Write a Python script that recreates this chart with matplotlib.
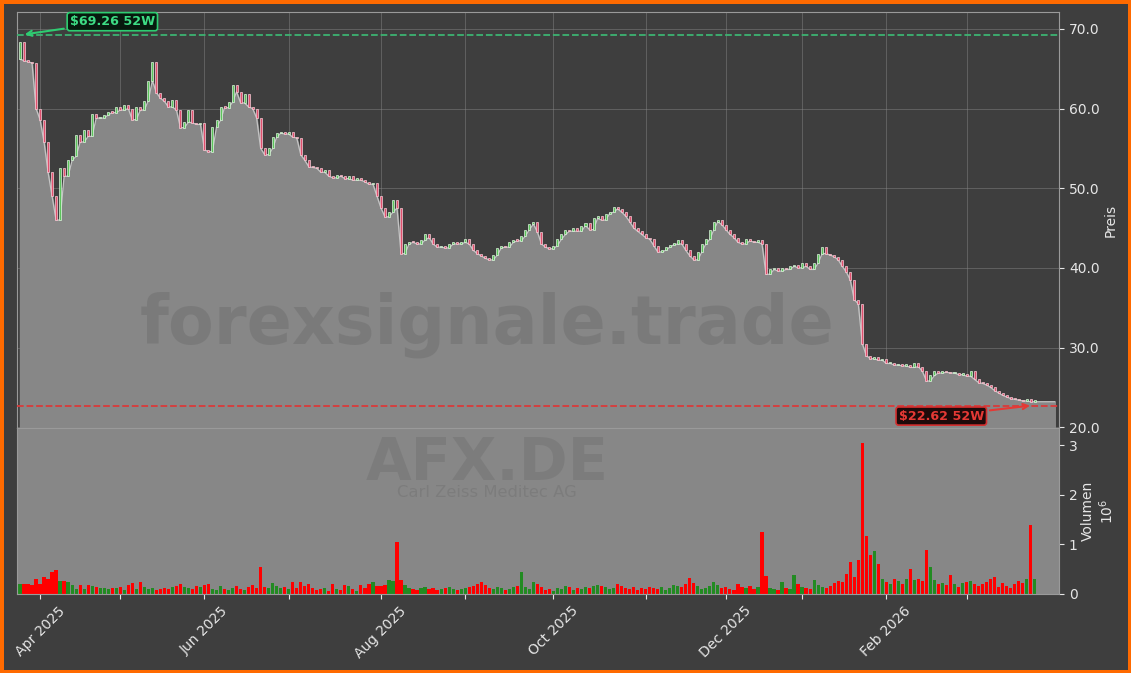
import numpy as np
import pandas as pd
import matplotlib
matplotlib.use("Agg")
import matplotlib.pyplot as plt

ticker = "AFX.DE"
company = "Carl Zeiss Meditec AG"
watermark = "forexsignale.trade"
high_52w = 69.26
low_52w = 22.62

# Xetra trading days
holidays = ["2025-04-18", "2025-04-21", "2025-05-01", "2025-12-24",
            "2025-12-25", "2025-12-26", "2025-12-31", "2026-01-01"]
dates = pd.bdate_range("2025-03-25", "2026-03-25")
dates = dates[~dates.isin(pd.to_datetime(holidays))]

first_open = 66.2
close = [
    68.4, 66.0, 65.9, 65.7, 60.0, 58.6, 55.8, 52.0, 49.0, 46.0,
    52.5, 51.5, 53.5, 54.0, 56.7, 55.8, 57.3, 56.5, 59.3, 58.8,
    58.8, 59.2, 59.6, 59.5, 60.2, 59.8, 60.4, 60.0, 58.6, 60.2,
    59.8, 61.0, 63.5, 65.9, 62.0, 61.3, 60.9, 60.2, 61.1, 59.8,
    57.6, 58.3, 59.8, 58.2, 58.0, 58.2, 54.8, 54.6, 57.7, 58.5,
    60.2, 60.1, 60.8, 63.0, 62.1, 60.7, 61.8, 60.2, 60.0, 58.8,
    55.0, 54.2, 55.0, 56.4, 56.9, 57.0, 56.8, 57.0, 56.4, 56.3,
    54.2, 53.5, 52.7, 52.6, 52.5, 52.0, 52.3, 51.5, 51.3, 51.6,
    51.5, 51.2, 51.5, 51.0, 51.3, 51.0, 50.8, 50.5, 50.6, 49.0,
    47.5, 46.4, 47.0, 48.5, 47.5, 41.8, 43.0, 43.3, 43.2, 43.0,
    43.5, 44.3, 43.8, 43.0, 42.6, 42.8, 42.5, 43.0, 43.3, 43.0,
    43.2, 43.6, 43.0, 42.2, 41.8, 41.5, 41.2, 41.0, 41.6, 42.5,
    42.8, 42.6, 43.2, 43.5, 43.4, 44.0, 44.8, 45.5, 45.8, 44.5,
    43.0, 42.6, 42.4, 42.8, 43.6, 44.2, 44.8, 44.6, 45.0, 44.6,
    45.3, 45.6, 44.8, 46.2, 46.5, 46.0, 46.8, 47.0, 47.6, 47.4,
    47.0, 46.5, 45.8, 45.0, 44.6, 44.2, 43.8, 43.6, 42.8, 42.0,
    42.2, 42.6, 42.9, 43.0, 43.5, 43.0, 42.2, 41.5, 41.0, 42.0,
    43.0, 43.6, 44.8, 45.8, 46.0, 45.4, 44.8, 44.2, 43.8, 43.2,
    43.0, 43.6, 43.4, 43.2, 43.5, 43.0, 39.2, 39.8, 40.0, 39.6,
    40.0, 39.8, 40.2, 40.4, 40.0, 40.6, 40.2, 39.8, 40.6, 41.8,
    42.6, 41.8, 41.6, 41.4, 41.0, 40.2, 39.5, 38.5, 36.0, 35.5,
    30.5, 29.0, 28.6, 28.8, 28.4, 28.6, 28.0, 28.0, 27.8, 27.9,
    27.7, 27.8, 27.5, 28.0, 27.6, 27.0, 25.8, 26.5, 27.0, 26.8,
    27.0, 26.9, 26.8, 26.8, 26.6, 26.7, 26.4, 27.0, 26.0, 25.6,
    25.5, 25.3, 25.0, 24.6, 24.3, 24.0, 23.8, 23.6, 23.5, 23.4,
    23.3, 23.5, 23.2, 23.4,
]
# volume in millions
volume_m = [
    0.20, 0.20, 0.20, 0.18, 0.30, 0.20, 0.34, 0.30, 0.44, 0.48,
    0.26, 0.26, 0.24, 0.18, 0.10, 0.18, 0.10, 0.18, 0.16, 0.14,
    0.12, 0.12, 0.10, 0.12, 0.12, 0.14, 0.08, 0.18, 0.22, 0.10,
    0.24, 0.14, 0.10, 0.12, 0.08, 0.10, 0.12, 0.10, 0.14, 0.16,
    0.20, 0.14, 0.12, 0.10, 0.16, 0.14, 0.18, 0.20, 0.10, 0.08,
    0.16, 0.10, 0.08, 0.12, 0.16, 0.10, 0.08, 0.14, 0.18, 0.12,
    0.55, 0.14, 0.12, 0.22, 0.16, 0.12, 0.14, 0.10, 0.24, 0.12,
    0.24, 0.16, 0.20, 0.12, 0.08, 0.10, 0.12, 0.06, 0.20, 0.10,
    0.08, 0.18, 0.16, 0.10, 0.06, 0.18, 0.12, 0.20, 0.24, 0.16,
    0.16, 0.18, 0.28, 0.26, 1.05, 0.28, 0.18, 0.12, 0.10, 0.08,
    0.12, 0.14, 0.10, 0.12, 0.08, 0.10, 0.12, 0.14, 0.10, 0.08,
    0.10, 0.12, 0.14, 0.16, 0.20, 0.24, 0.18, 0.12, 0.10, 0.14,
    0.12, 0.08, 0.10, 0.14, 0.16, 0.45, 0.14, 0.10, 0.24, 0.20,
    0.14, 0.08, 0.10, 0.06, 0.12, 0.10, 0.16, 0.14, 0.08, 0.12,
    0.10, 0.14, 0.12, 0.16, 0.18, 0.16, 0.14, 0.10, 0.12, 0.20,
    0.16, 0.12, 0.10, 0.14, 0.08, 0.12, 0.10, 0.14, 0.12, 0.10,
    0.14, 0.08, 0.12, 0.18, 0.16, 0.14, 0.20, 0.32, 0.22, 0.16,
    0.10, 0.12, 0.16, 0.24, 0.18, 0.12, 0.14, 0.10, 0.08, 0.20,
    0.14, 0.12, 0.16, 0.10, 0.14, 1.25, 0.36, 0.12, 0.10, 0.08,
    0.24, 0.12, 0.10, 0.38, 0.20, 0.14, 0.12, 0.10, 0.28, 0.18,
    0.14, 0.12, 0.16, 0.22, 0.26, 0.24, 0.40, 0.65, 0.35, 0.68,
    3.05, 1.18, 0.78, 0.86, 0.60, 0.30, 0.24, 0.20, 0.30, 0.26,
    0.20, 0.30, 0.50, 0.28, 0.30, 0.26, 0.88, 0.55, 0.28, 0.20,
    0.22, 0.18, 0.38, 0.20, 0.14, 0.22, 0.24, 0.26, 0.20, 0.16,
    0.20, 0.24, 0.30, 0.34, 0.14, 0.22, 0.16, 0.12, 0.20, 0.26,
    0.22, 0.30, 1.40, 0.30,
]

n = min(len(dates), len(close), len(volume_m))
dates = dates[:n]
close = np.array(close[:n])
opn = np.concatenate([[first_open], close[:-1]])
vol = np.array(volume_m[:n])
x = np.arange(n)
up = close >= opn
lo = np.minimum(opn, close)
hi = np.maximum(opn, close)

BG = "#3e3e3e"
FILL = "#878787"
TXT = "#e6e6e6"

fig = plt.figure(figsize=(11.31, 6.73), dpi=100, facecolor=BG)
fig.patch.set_edgecolor("#ff6a00")
fig.patch.set_linewidth(5)
ax = fig.add_axes([0.015, 0.364, 0.9215, 0.618], facecolor=BG)
axv = fig.add_axes([0.015, 0.1174, 0.9215, 0.2466], facecolor=FILL, sharex=ax)

# price panel
ax.set_axisbelow(True)
ax.grid(True, color="#8a8a8a", alpha=0.45, linewidth=0.7)
xf = np.append(x, n + 4)
yf = np.append(lo, lo[-1])
ax.fill_between(xf, 0, yf, color=FILL, zorder=1)
ax.plot(xf, yf, color="#c4c4c4", linewidth=0.9, zorder=2)

body = np.maximum(hi - lo, 0.18)
ax.bar(x[up], body[up], bottom=lo[up], width=0.5, color="#5cc45c",
       edgecolor="#e0f5e0", linewidth=0.5, zorder=3)
ax.bar(x[~up], body[~up], bottom=lo[~up], width=0.5, color="#e0506e",
       edgecolor="#f8d0da", linewidth=0.5, zorder=3)

ax.axhline(high_52w, color="#3cb371", linestyle="--", linewidth=1.3, zorder=4)
ax.axhline(low_52w, color="#d93a3a", linestyle="--", linewidth=1.3, zorder=4)

ax.annotate(f"${high_52w:.2f} 52W", xy=(0.5, high_52w), xytext=(12.4, 70.9),
            color="#3ddc84", fontsize=9.2, fontweight="bold", va="center",
            bbox=dict(boxstyle="round,pad=0.2", fc="#071a0e", ec="#2ecc71", lw=1.2),
            arrowprops=dict(arrowstyle="->", color="#2ecc71", lw=1.5), zorder=6)
ax.annotate(f"${low_52w:.2f} 52W", xy=(252.5, 22.75), xytext=(229.7, 21.4),
            color="#e53935", fontsize=9.2, fontweight="bold", va="center", ha="center",
            bbox=dict(boxstyle="round,pad=0.2", fc="#1e0a0a", ec="#d32f2f", lw=1.2),
            arrowprops=dict(arrowstyle="->", color="#e53935", lw=1.5), zorder=6)

ax.set_ylim(19.9, 72.1)
ax.set_xlim(-0.75, 259.1)
ax.yaxis.tick_right()
ax.yaxis.set_label_position("right")
ax.set_yticks([20, 30, 40, 50, 60, 70])
ax.set_yticklabels([f"{v:.1f}" for v in [20, 30, 40, 50, 60, 70]])
ax.set_ylabel("Preis", color=TXT, fontsize=10, labelpad=3)
ax.tick_params(axis="y", colors=TXT, labelsize=10)
ax.tick_params(axis="x", bottom=False, labelbottom=False)
for s in ax.spines.values():
    s.set_color("#9a9a9a")

# month ticks, label every second month
months = pd.Series(x, index=dates).groupby(dates.to_period("M")).first()
tick_pos = [int(v) for v in months.values if v > 0]
tick_lab = [dates[v].strftime("%b %Y") if dates[v].month % 2 == 0 else ""
            for v in tick_pos]
ax.set_xticks(tick_pos)

# volume panel
colors = np.where(up, "#228b22", "#ff0000")
axv.bar(x, vol, width=0.8, color=colors, zorder=2)
axv.set_ylim(0, 3.35)
axv.yaxis.tick_right()
axv.yaxis.set_label_position("right")
axv.set_yticks([0, 1, 2, 3])
axv.set_ylabel("Volumen\n$10^6$", color=TXT, fontsize=10, labelpad=2)
axv.tick_params(axis="y", colors=TXT, labelsize=10)
axv.set_xticks(tick_pos)
axv.set_xticklabels(tick_lab, rotation=45, ha="center")
axv.tick_params(axis="x", colors=TXT, labelsize=10)
for s in axv.spines.values():
    s.set_color("#9a9a9a")

fig.text(0.4306, 0.517, watermark, fontsize=48, fontweight="bold",
         color="black", alpha=0.09, ha="center", va="center", zorder=0)
fig.text(0.4306, 0.312, ticker, fontsize=42.5, fontweight="bold",
         color="black", alpha=0.08, ha="center", va="center")
fig.text(0.4306, 0.268, company, fontsize=11.8,
         color="black", alpha=0.08, ha="center", va="center")

fig.savefig("out.png", dpi=100, facecolor=BG, edgecolor=fig.patch.get_edgecolor())
